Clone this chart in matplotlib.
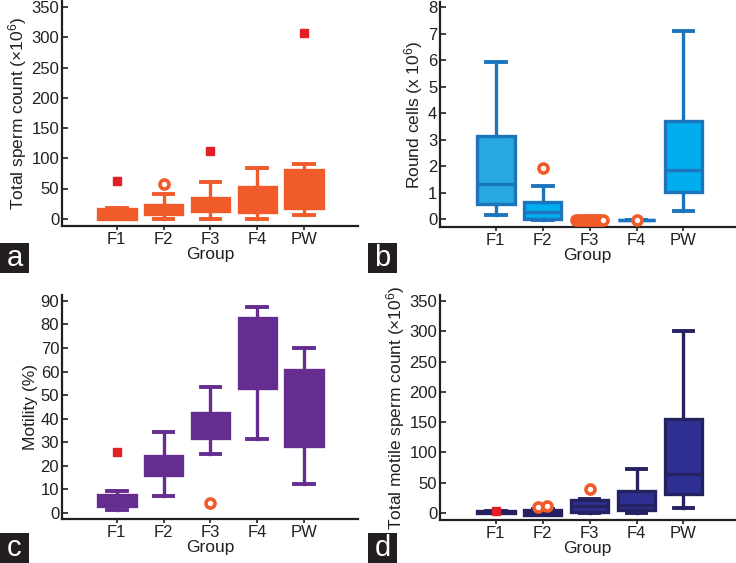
import numpy as np
import matplotlib.pyplot as plt
from matplotlib.patches import Rectangle

plt.rcParams['font.family'] = ['Liberation Sans', 'DejaVu Sans']
plt.rcParams['mathtext.fontset'] = 'custom'
plt.rcParams['mathtext.rm'] = 'Liberation Sans'
plt.rcParams['mathtext.it'] = 'Liberation Sans:italic'

groups = ['F1', 'F2', 'F3', 'F4', 'PW']

# box stats: whisker low, q1, median, q3, whisker high
tsc_lo = [-1, 0, 0, 0, 6.6]
tsc_q1 = [0, 7.7, 12, 10.5, 17.6]
tsc_med = [8, 15, 20, 25, 50]
tsc_q3 = [16, 23, 34, 52, 81]
tsc_hi = [17, 41, 61, 84.7, 90]
tsc_mild = [[], [57.8], [], [], []]
tsc_ext = [[61.6], [], [112.7], [], [307]]

rc_lo = [0.15, -0.05, -0.03, -0.03, 0.3]
rc_q1 = [0.55, 0.0, -0.03, -0.03, 1.02]
rc_med = [1.34, 0.28, -0.03, -0.03, 1.85]
rc_q3 = [3.14, 0.65, -0.03, -0.03, 3.71]
rc_hi = [5.93, 1.26, -0.03, -0.03, 7.1]
rc_mild = [[], [1.93], [-0.03] * 12, [-0.03], []]
rc_ext = [[], [], [], [], []]

mot_lo = [1.4, 7.1, 25.1, 31.3, 12.5]
mot_q1 = [2.8, 16.3, 32, 52.9, 28.5]
mot_med = [5, 20, 37, 65, 45]
mot_q3 = [7.5, 24.1, 42.5, 82.6, 60.7]
mot_hi = [9.35, 34.4, 53.6, 87.3, 69.9]
mot_mild = [[], [], [4.4], [], []]
mot_ext = [[25.7], [], [], [], []]

tmsc_lo = [0, -4, 0.5, 0.5, 8.3]
tmsc_q1 = [0, -3, 1.6, 4.4, 30.8]
tmsc_med = [2, 1, 11, 12.7, 65]
tmsc_q3 = [4, 5, 21, 36.3, 155.7]
tmsc_hi = [4, 6, 22.6, 73.2, 300.5]
tmsc_mild = [[], [10, 11.5], [39], [], []]
tmsc_ext = [[2.75], [], [], [], []]

ORANGE = '#F15A29'
RED = '#E21F26'
INK = '#231F20'


def make_stats(lo, q1, med, q3, hi):
    return [dict(whislo=a, q1=b, med=c, q3=d, whishi=e, fliers=[])
            for a, b, c, d, e in zip(lo, q1, med, q3, hi)]


def draw(ax, stats, fills, edge, med_color, mild, ext, spread_idx=None):
    pos = np.arange(1, 6)
    bp = ax.bxp(stats, positions=pos, widths=0.8, patch_artist=True,
                showfliers=False, capwidths=0.42,
                boxprops=dict(linewidth=2.4, edgecolor=edge),
                whiskerprops=dict(color=edge, linewidth=2.4),
                capprops=dict(color=edge, linewidth=2.8),
                medianprops=dict(color=med_color, linewidth=2.4))
    for patch, fc in zip(bp['boxes'], fills):
        patch.set_facecolor(fc)
    for i, p in enumerate(pos):
        vals = mild[i]
        if len(vals):
            if spread_idx == i:
                xs = p + np.linspace(-0.28, 0.28, len(vals))
            elif len(vals) > 1:
                xs = p + np.linspace(-0.1, 0.1, len(vals))
            else:
                xs = np.full(len(vals), p)
            ax.plot(xs, vals, 'o', ms=6.5, mfc='white', mec=ORANGE, mew=2.6,
                    ls='none', zorder=5)
        if len(ext[i]):
            ax.plot(np.full(len(ext[i]), p), ext[i], 's', ms=5.5,
                    color=RED, ls='none', zorder=5)


def style(ax, ylim, yticks, xlim, ylabel):
    ax.set_xlim(*xlim)
    ax.set_ylim(*ylim)
    ax.set_yticks(yticks)
    ax.set_xticks(np.arange(1, 6))
    ax.set_xticklabels(groups)
    for s in ['top', 'right']:
        ax.spines[s].set_visible(False)
    for s in ['left', 'bottom']:
        ax.spines[s].set_linewidth(1.6)
        ax.spines[s].set_color(INK)
    ax.tick_params(axis='y', direction='in', length=4, width=1.2,
                   labelsize=12, colors=INK, pad=2)
    ax.tick_params(axis='x', direction='out', length=3, width=1.2,
                   labelsize=12, colors=INK, pad=1.5)
    ax.set_xlabel('Group', fontsize=12.5, color=INK, labelpad=0)
    ax.set_ylabel(ylabel, fontsize=12.5, color=INK, labelpad=2)


W, H = 736, 563
fig = plt.figure(figsize=(W / 100, H / 100), dpi=100)


def axes_px(x0, x1, y0, y1):
    return fig.add_axes([x0 / W, 1 - y1 / H, (x1 - x0) / W, (y1 - y0) / H])


ax_a = axes_px(62, 358, 1, 226)
draw(ax_a, make_stats(tsc_lo, tsc_q1, tsc_med, tsc_q3, tsc_hi),
     [ORANGE] * 5, ORANGE, ORANGE, tsc_mild, tsc_ext)
style(ax_a, (-12, 360), np.arange(0, 351, 50), (-0.17, 6.15),
      r'Total sperm count ($\times$10$^{6}$)')

ax_b = axes_px(440, 735, 2, 227)
draw(ax_b, make_stats(rc_lo, rc_q1, rc_med, rc_q3, rc_hi),
     ['#29A8E0', '#00AEEF', '#00AEEF', '#00AEEF', '#00AEEF'],
     '#1C75BC', '#1C75BC', rc_mild, rc_ext, spread_idx=2)
style(ax_b, (-0.3, 8.19), np.arange(0, 9, 1), (-0.19, 6.1),
      r'Round cells (x 10$^{6}$)')

ax_c = axes_px(62, 358, 295, 519)
draw(ax_c, make_stats(mot_lo, mot_q1, mot_med, mot_q3, mot_hi),
     ['#662D91'] * 5, '#662D91', '#662D91', mot_mild, mot_ext)
style(ax_c, (-2.55, 92.5), np.arange(0, 91, 10), (-0.17, 6.15),
      'Motility (%)')

ax_d = axes_px(440, 735, 295, 520)
draw(ax_d, make_stats(tmsc_lo, tmsc_q1, tmsc_med, tmsc_q3, tmsc_hi),
     ['#262262', '#262262', '#2E3192', '#2E3192', '#2E3192'],
     '#262262', '#262262', tmsc_mild, tmsc_ext)
style(ax_d, (-11.6, 360), np.arange(0, 351, 50), (-0.19, 6.1),
      r'Total motile sperm count ($\times$10$^{6}$)')

# panel letters in black boxes
for letter, x0, y0 in [('a', 0, 243), ('b', 368, 243), ('c', 0, 533), ('d', 368, 533)]:
    fig.patches.append(Rectangle((x0 / W, 1 - (y0 + 30) / H), 29 / W, 30 / H,
                                 transform=fig.transFigure, facecolor=INK,
                                 edgecolor='none'))
    fig.text((x0 + 14.5) / W, 1 - (y0 + 15) / H, letter, color='white',
             fontsize=21, ha='center', va='center')

fig.savefig('out.png', dpi=100)
